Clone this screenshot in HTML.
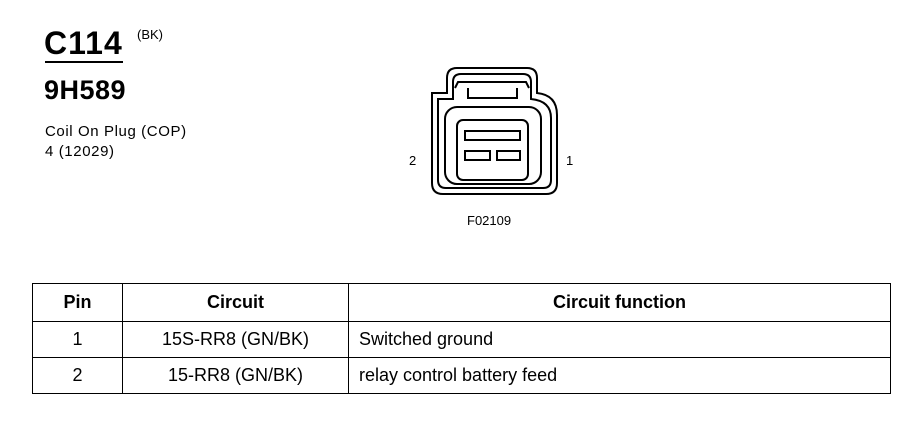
<!DOCTYPE html>
<html><head><style>
body{margin:0;width:914px;height:432px;background:#fff;position:relative;font-family:"Liberation Sans",sans-serif;color:#000;overflow:hidden}
.t{position:absolute;white-space:nowrap;line-height:1}
table{position:absolute;left:32px;top:283px;width:858px;table-layout:fixed;border-collapse:collapse;font-size:18px}
td{border:1.5px solid #000;height:35px;padding:0;text-align:center}
th{border:1.5px solid #000;height:35px;font-weight:bold;font-size:18px}
td.l{text-align:left;padding-left:10px}
</style></head><body>
<div class="t" style="left:44px;top:27px;font-size:32px;font-weight:bold;letter-spacing:1px">C114</div>
<div class="t" style="left:137px;top:28px;font-size:13px">(BK)</div>
<div style="position:absolute;left:45px;top:61px;width:78px;height:2px;background:#000"></div>
<div class="t" style="left:44px;top:77px;font-size:27px;font-weight:bold;letter-spacing:0.5px">9H589</div>
<div class="t" style="left:45px;top:124px;font-size:15px;letter-spacing:0.6px">Coil On Plug (COP)</div>
<div class="t" style="left:45px;top:144px;font-size:15px;letter-spacing:0.6px">4 (12029)</div>
<svg style="position:absolute;left:0;top:0" width="914" height="432">
<g fill="none" stroke="#000" stroke-width="2">
<path d="M432,93 L447,93 L447,78 Q447,68 457,68 L527,68 Q537,68 537,78 L537,93 Q557,95 557,115 L557,183 Q557,194 546,194 L443,194 Q432,194 432,183 Z"/>
<path d="M438,99 L453,99 L453,82 Q453,74 461,74 L523,74 Q531,74 531,82 L531,99 Q551,101 551,118 L551,180 Q551,188 543,188 L446,188 Q438,188 438,180 Z"/>
<path d="M455,88 L458,82 L526,82 L529,88"/>
<path d="M468,88 L468,98 L517,98 L517,88"/>
<rect x="445" y="107" width="96" height="77" rx="12"/>
<rect x="457" y="120" width="71" height="60" rx="6"/>
<rect x="465" y="131" width="55" height="9"/>
<rect x="465" y="151" width="25" height="9"/>
<rect x="497" y="151" width="23" height="9"/>
</g>
<text x="409" y="165" font-size="13" font-family="Liberation Sans">2</text>
<text x="566" y="165" font-size="13" font-family="Liberation Sans">1</text>
<text x="467" y="225" font-size="13" font-family="Liberation Sans">F02109</text>
</svg>
<table>
<colgroup><col style="width:90px"><col style="width:226px"><col style="width:542px"></colgroup>
<tr><th>Pin</th><th>Circuit</th><th>Circuit function</th></tr>
<tr><td>1</td><td>15S-RR8 (GN/BK)</td><td class="l">Switched ground</td></tr>
<tr><td>2</td><td>15-RR8 (GN/BK)</td><td class="l">relay control battery feed</td></tr>
</table>
</body></html>
